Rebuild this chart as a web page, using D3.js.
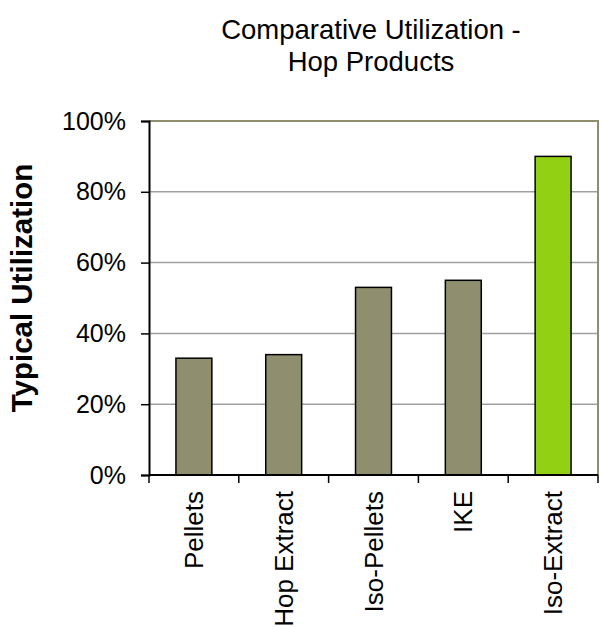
<!DOCTYPE html>
<html>
<head>
<meta charset="utf-8">
<script src="https://cdn.jsdelivr.net/npm/d3@7"></script>
<style>
  body { margin: 0; background: #fff; }
  text { font-family: "Liberation Sans", Arial, sans-serif; }
</style>
</head>
<body>
<div id="chart"></div>
<script>
const categorias = ["Pellets", "Hop Extract", "Iso-Pellets", "IKE", "Iso-Extract"];
const utilizacion = [0.33, 0.34, 0.53, 0.55, 0.90];
const colores = ["#8f8f70", "#8f8f70", "#8f8f70", "#8f8f70", "#92d014"];
const ticksY = [0, 0.2, 0.4, 0.6, 0.8, 1.0];
const titulo = ["Comparative Utilization -", "Hop Products"];

const width = 602, height = 627;
const margin = {top: 121, right: 4, bottom: 152, left: 149};

const svg = d3.select("#chart")
    .append("svg")
    .attr("width", width)
    .attr("height", height);

const x = d3.scaleBand()
    .domain(categorias)
    .range([margin.left, width - margin.right])
    .paddingInner(0.6)
    .paddingOuter(0.3);

const y = d3.scaleLinear()
    .domain([0, 1])
    .range([height - margin.bottom, margin.top]);

// lineas de la rejilla
svg.append("g")
    .selectAll("line")
    .data(ticksY.slice(1, -1))
    .enter()
    .append("line")
    .attr("x1", margin.left)
    .attr("x2", width - margin.right)
    .attr("y1", d => y(d))
    .attr("y2", d => y(d))
    .attr("stroke", "#a0a0a0")
    .attr("stroke-width", 1.5);

// borde superior y derecho
svg.append("path")
    .attr("d", `M${margin.left},${y(1)}H${width - margin.right}V${y(0)}`)
    .attr("fill", "none")
    .attr("stroke", "#8f8f70")
    .attr("stroke-width", 2);

// barras
svg.selectAll("rect.bar")
    .data(categorias)
    .enter()
    .append("rect")
    .attr("class", "bar")
    .attr("x", d => x(d))
    .attr("width", x.bandwidth())
    .attr("y", (d, i) => y(utilizacion[i]))
    .attr("height", (d, i) => y(0) - y(utilizacion[i]))
    .attr("fill", (d, i) => colores[i])
    .attr("stroke", "#000")
    .attr("stroke-width", 1.5);

// eje y
const ejeY = svg.append("g")
    .attr("transform", `translate(${margin.left},0)`)
    .call(d3.axisLeft(y).tickValues(ticksY).tickFormat(d3.format(".0%")).tickSize(8).tickPadding(15));
ejeY.select(".domain").attr("stroke", "#000").attr("stroke-width", 2);
ejeY.selectAll(".tick line").attr("stroke", "#000").attr("stroke-width", 1.5);
ejeY.selectAll(".tick text").attr("font-size", "25px").attr("fill", "#000")
    .attr("font-family", "Liberation Sans, Arial, sans-serif");

// eje x (marcas entre categorias)
const ejeX = svg.append("g")
    .attr("transform", `translate(0,${y(0)})`);
const paso = x.step();
const bordes = d3.range(categorias.length + 1).map(i => margin.left + i * paso);
ejeX.append("line")
    .attr("x1", margin.left)
    .attr("x2", width - margin.right)
    .attr("stroke", "#000")
    .attr("stroke-width", 2);
ejeX.selectAll("line.tick")
    .data(bordes)
    .enter()
    .append("line")
    .attr("class", "tick")
    .attr("x1", d => d)
    .attr("x2", d => d)
    .attr("y1", 0)
    .attr("y2", 8)
    .attr("stroke", "#000")
    .attr("stroke-width", 1.5);
ejeX.selectAll("text")
    .data(categorias)
    .enter()
    .append("text")
    .attr("transform", d => `translate(${x(d) + x.bandwidth() / 2 + 9},16) rotate(-90)`)
    .attr("text-anchor", "end")
    .attr("font-size", "26px")
    .attr("fill", "#000")
    .text(d => d);

// titulo del eje y
svg.append("text")
    .attr("transform", `translate(32,288) rotate(-90)`)
    .attr("text-anchor", "middle")
    .attr("font-size", "29.5px")
    .attr("font-weight", "bold")
    .text("Typical Utilization");

// titulo
svg.selectAll("text.titulo")
    .data(titulo)
    .enter()
    .append("text")
    .attr("class", "titulo")
    .attr("x", 371)
    .attr("y", (d, i) => 39 + i * 32)
    .attr("text-anchor", "middle")
    .attr("font-size", "27.5px")
    .text(d => d);
</script>
</body>
</html>
